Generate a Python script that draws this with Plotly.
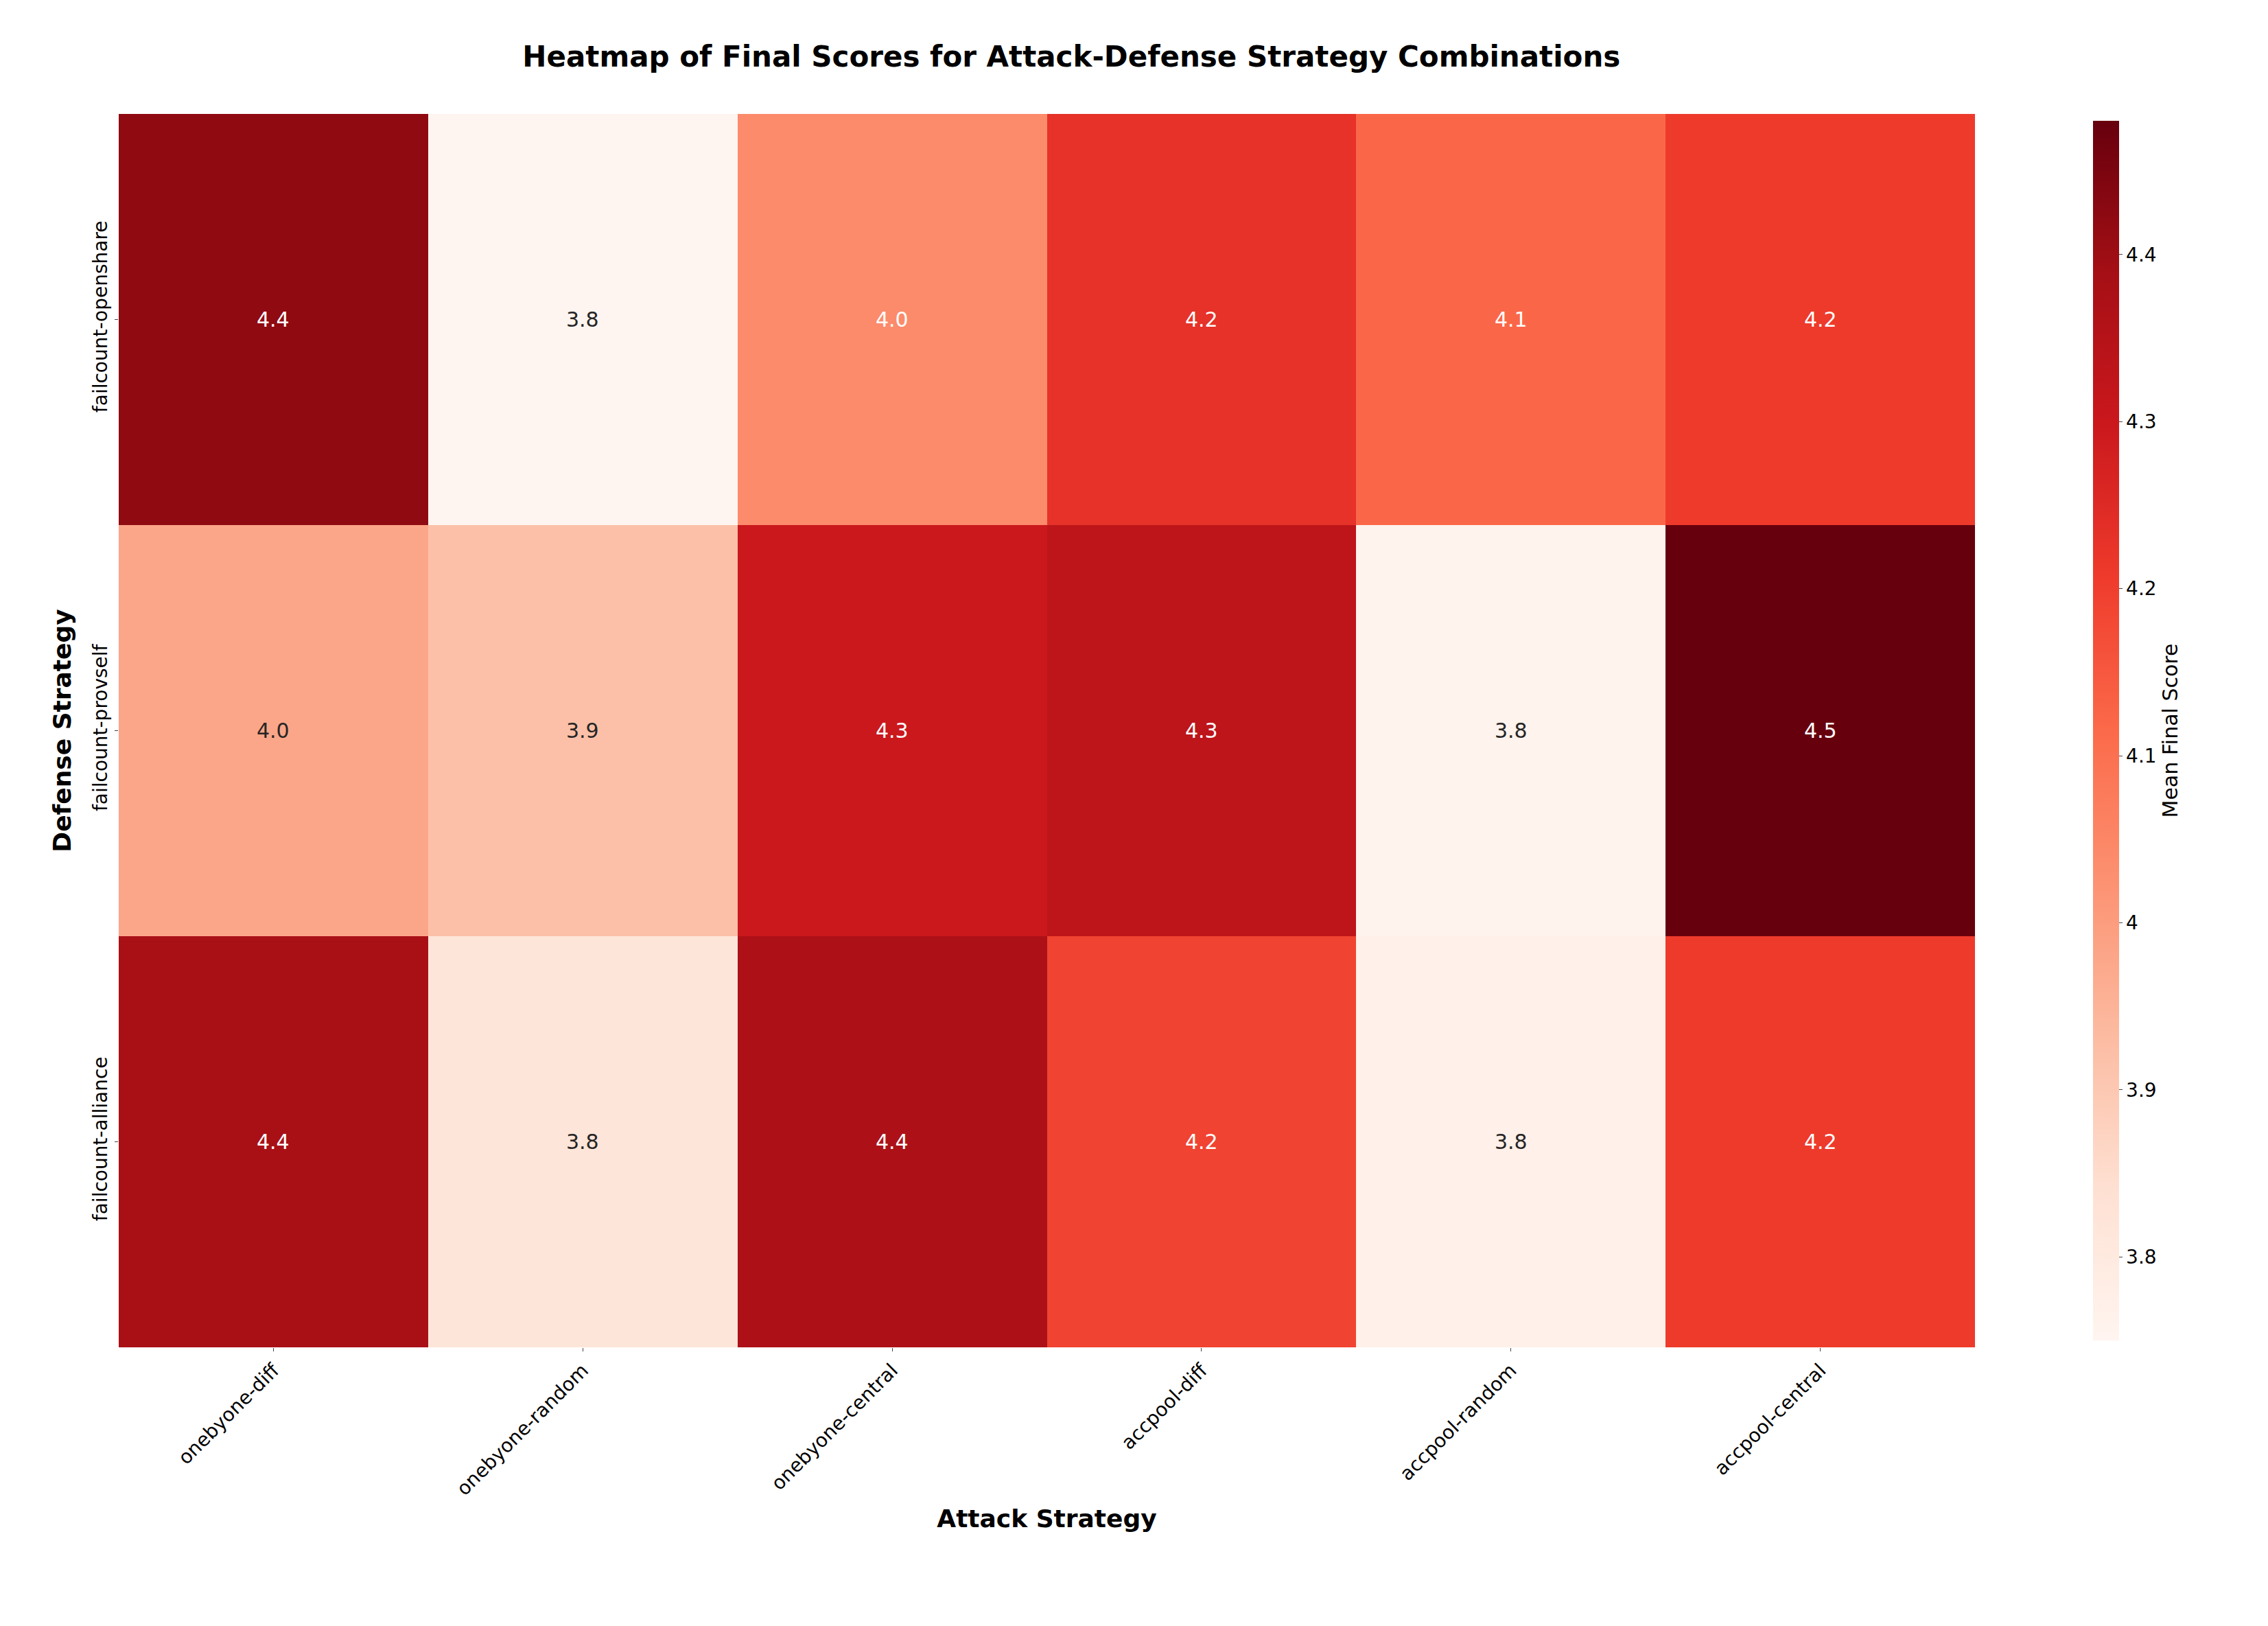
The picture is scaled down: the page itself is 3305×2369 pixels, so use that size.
import plotly.graph_objects as go

attack = ["onebyone-diff", "onebyone-random", "onebyone-central", "accpool-diff", "accpool-random", "accpool-central"]
defense = ["failcount-openshare", "failcount-provself", "failcount-alliance"]
scores = [
    [4.42, 3.75, 4.04, 4.23, 4.12, 4.21],
    [3.98, 3.92, 4.30, 4.33, 3.76, 4.48],
    [4.38, 3.82, 4.37, 4.19, 3.77, 4.21],
]

reds = ["#fff5f0", "#fee0d2", "#fcbba1", "#fc9272", "#fb6a4a", "#ef3b2c", "#cb181d", "#a50f15", "#67000d"]
cs = [[i / 8, c] for i, c in enumerate(reds)]
zmin, zmax = 3.75, 4.48

fig = go.Figure(go.Heatmap(
    z=scores, x=attack, y=defense, colorscale=cs, zmin=zmin, zmax=zmax,
    colorbar=dict(title=dict(text="Mean Final Score", side="right", font=dict(size=30)),
                  tickfont=dict(size=28), thickness=38, len=1, lenmode="fraction",
                  x=1.06, xanchor="left", y=0.5, outlinewidth=0,
                  tickvals=[3.8, 3.9, 4.0, 4.1, 4.2, 4.3, 4.4], ticks="outside"),
))

for i, row in enumerate(scores):
    for j, v in enumerate(row):
        fig.add_annotation(x=attack[j], y=defense[i], text=f"{v:.1f}", showarrow=False,
                           font=dict(size=30, color="white" if v > 4.0 else "#262626"))

fig.update_layout(
    width=3305, height=2369, paper_bgcolor="white", plot_bgcolor="white",
    font=dict(family="DejaVu Sans", color="black"),
    title=dict(text="<b>Heatmap of Final Scores for Attack-Defense Strategy Combinations</b>",
               x=0.47, xanchor="center", y=0.975, font=dict(size=42)),
    margin=dict(l=165, r=435, t=158, b=414),
    xaxis=dict(title=dict(text="<b>Attack Strategy</b>", font=dict(size=36)), tickangle=-45,
               tickfont=dict(size=28), ticks="outside", showgrid=False),
    yaxis=dict(title=dict(text="<b>Defense Strategy</b>", font=dict(size=36)), tickangle=-90,
               tickfont=dict(size=28), ticks="outside", autorange="reversed", showgrid=False),
)
fig.write_html("out.html")
